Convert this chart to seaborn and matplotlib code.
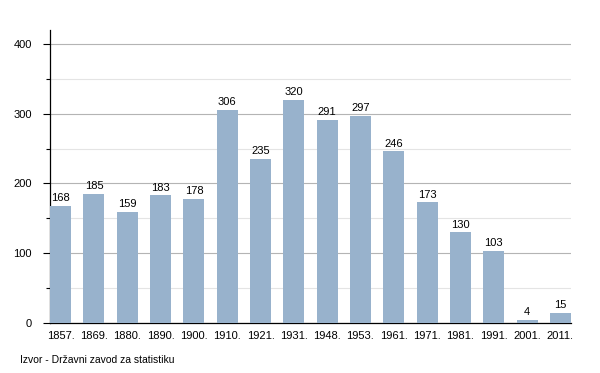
import matplotlib
matplotlib.use("Agg")
import matplotlib.pyplot as plt
import seaborn as sns
import pandas as pd
from matplotlib.ticker import MultipleLocator

years = ['1857.', '1869.', '1880.', '1890.', '1900.', '1910.', '1921.', '1931.',
         '1948.', '1953.', '1961.', '1971.', '1981.', '1991.', '2001.', '2011.']
population = [168, 185, 159, 183, 178, 306, 235, 320, 291, 297, 246, 173, 130, 103, 4, 15]

df = pd.DataFrame({'year': years, 'pop': population})

sns.set_style('white')
plt.rcParams['font.family'] = ['Liberation Sans', 'DejaVu Sans']
plt.rcParams['text.color'] = 'black'
plt.rcParams['xtick.color'] = 'black'
plt.rcParams['ytick.color'] = 'black'

fig = plt.figure(figsize=(6, 3.73), dpi=100)
ax = fig.add_axes([50 / 600, 1 - 323 / 373, 521 / 600, 293 / 373])

sns.barplot(data=df, x='year', y='pop', color='#98b2cc', width=0.63,
            saturation=1, linewidth=0, ax=ax, zorder=3)

for i, v in enumerate(population):
    ax.text(i, v + 4, str(v), ha='center', va='bottom', fontsize=8, color='black', zorder=4)

ax.set_xlim(-0.32, 15.32)
ax.set_ylim(0, 420)
ax.yaxis.set_major_locator(MultipleLocator(100))
ax.yaxis.set_minor_locator(MultipleLocator(50))
ax.grid(axis='y', which='major', color='#b4b4b4', linewidth=0.8, zorder=0)
ax.grid(axis='y', which='minor', color='#e4e4e4', linewidth=0.8, zorder=0)
ax.set_axisbelow(True)

for s in ['top', 'right']:
    ax.spines[s].set_visible(False)
ax.spines['left'].set_color('black')
ax.spines['bottom'].set_color('black')
ax.spines['left'].set_linewidth(0.9)
ax.spines['bottom'].set_linewidth(0.9)

ax.tick_params(axis='y', which='major', left=True, length=5, width=0.8,
               color='black', labelcolor='black', labelsize=8, pad=8)
ax.tick_params(axis='y', which='minor', left=True, length=3, width=0.8, color='black')
ax.tick_params(axis='x', bottom=False, labelsize=8, labelcolor='black', pad=2)
ax.set_xlabel('')
ax.set_ylabel('')

fig.text(20 / 600, 1 - 360 / 373, 'Izvor - Državni zavod za statistiku',
         fontsize=7.5, color='black', va='center', ha='left')

fig.savefig('out.png', dpi=100)
